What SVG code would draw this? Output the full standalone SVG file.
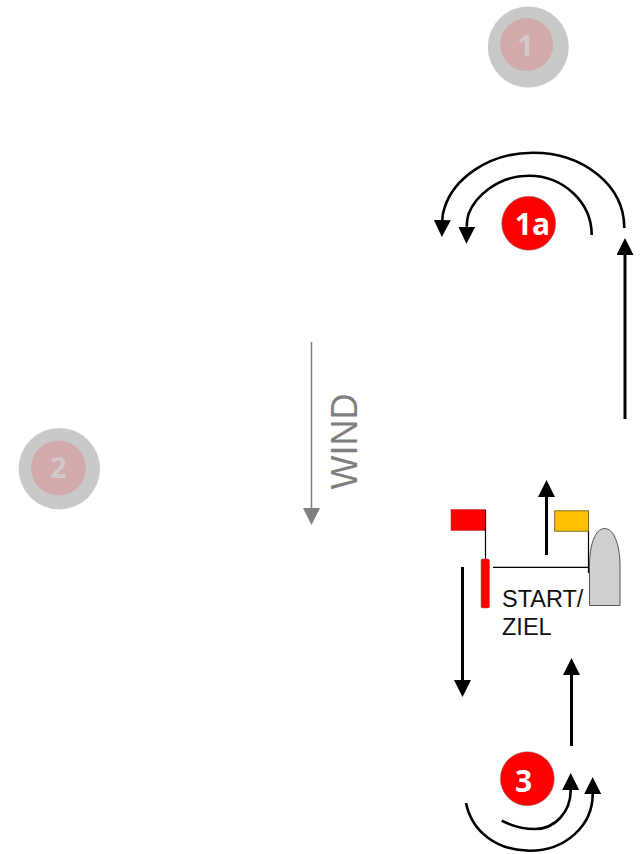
<svg xmlns="http://www.w3.org/2000/svg" width="640" height="854" viewBox="0 0 640 854">
<style>
.c{fill:none;stroke:#000;stroke-width:3;marker-end:url(#h)}
.a{fill:none;stroke:#000;stroke-width:2.6;marker-end:url(#h)}
.t{font-family:"Liberation Sans",Arial,sans-serif;font-size:23.5px;fill:#111}
.n{font-family:"Open Sans",sans-serif;font-weight:700;font-size:30px;text-anchor:middle;fill:#fff}
.g{fill:#c9c9c9}
.p{fill:#d3aaab}
.m{font-family:"Open Sans",sans-serif;font-weight:700;font-size:29px;text-anchor:middle;fill:#d0c8c9}
.r{fill:#f00;stroke:#7f7f7f;stroke-width:.5}
</style>
<defs>
<marker id="h" markerUnits="userSpaceOnUse" markerWidth="18" markerHeight="18" refX="0" refY="8.5" orient="auto"><path d="M0 0L17 8.5L0 17Z" fill="#000"/></marker>
<marker id="w" markerUnits="userSpaceOnUse" markerWidth="18" markerHeight="18" refX="0" refY="8.5" orient="auto"><path d="M0 0L17 8.5L0 17Z" fill="#7f7f7f"/></marker>
</defs>
<g id="mark-1"><circle class="g" cx="528.3" cy="47" r="40.5"/><circle class="p" cx="526.7" cy="44.5" r="26.5"/><text class="m" x="525.5" y="56">1</text></g>
<g id="mark-2"><circle class="g" cx="59.3" cy="468.7" r="40.7"/><circle class="p" cx="58.5" cy="468" r="27.5"/><text class="m" x="58.3" y="477.5">2</text></g>
<g id="mark-1a"><circle class="r" cx="528.7" cy="223.3" r="27"/><text class="n" x="532.5" y="235">1a</text></g>
<g id="mark-3"><circle class="r" cx="527.3" cy="778.7" r="27"/><text class="n" x="523.5" y="791.5">3</text></g>
<g id="wind"><line x1="311.5" y1="342" x2="311.5" y2="508" stroke="#7f7f7f" stroke-width="1.5" marker-end="url(#w)"/><text transform="translate(357 489.5) rotate(-90)" font-family="'Liberation Sans',Arial,sans-serif" font-size="36" fill="#7f7f7f">WIND</text></g>
<g id="start-pin"><rect x="451" y="509.5" width="34.5" height="21" fill="#f00" stroke="#a33" stroke-width=".5"/><line x1="485.5" y1="510" x2="485.5" y2="559" stroke="#000" stroke-width="1.2"/><rect x="481" y="559" width="8.5" height="49" rx="1.5" fill="#f00" stroke="#b55" stroke-width=".5"/></g>
<g id="committee-boat"><line x1="588.5" y1="531" x2="588.5" y2="573" stroke="#000" stroke-width="1.2"/><rect x="554.7" y="510.8" width="33.8" height="20.4" fill="#ffc000" stroke="#7f6a20" stroke-width="1"/><path d="M589.5 605.5V566C589.5 545 595 528.5 604.7 528.5C614 528.5 620 545 620 566V605.5Z" fill="#d0cece" stroke="#555" stroke-width="1"/></g>
<g id="start-line"><line x1="493" y1="567.3" x2="589" y2="567.3" stroke="#000" stroke-width="1.2"/><text class="t" x="502" y="606.5">START/</text><text class="t" x="502" y="635">ZIEL</text></g>
<g id="connectors">
<path class="c" d="M625 419V255"/>
<path class="c" d="M546.5 555V497"/>
<path class="c" d="M462.5 567V680"/>
<path class="c" d="M571.5 746V675"/>
<path class="a" d="M624.3 228C624.3 185 583 152.7 533 152.7C487 152.7 453 180 444.5 208Q442.5 213 442.3 220"/>
<path class="a" d="M591.7 235C591.7 202 563 175.7 529 175.7C497 175.7 475 197 468.5 214Q466.8 220 466.7 226.7"/>
<path class="a" d="M466 803C472 832 497 850.7 530 850.7C565 850.7 592.7 826 592.7 794"/>
<path class="a" d="M501.7 820.7C512 826 525 829 535 829C555 829 570.7 812 570.7 790"/>
</g>
</svg>
